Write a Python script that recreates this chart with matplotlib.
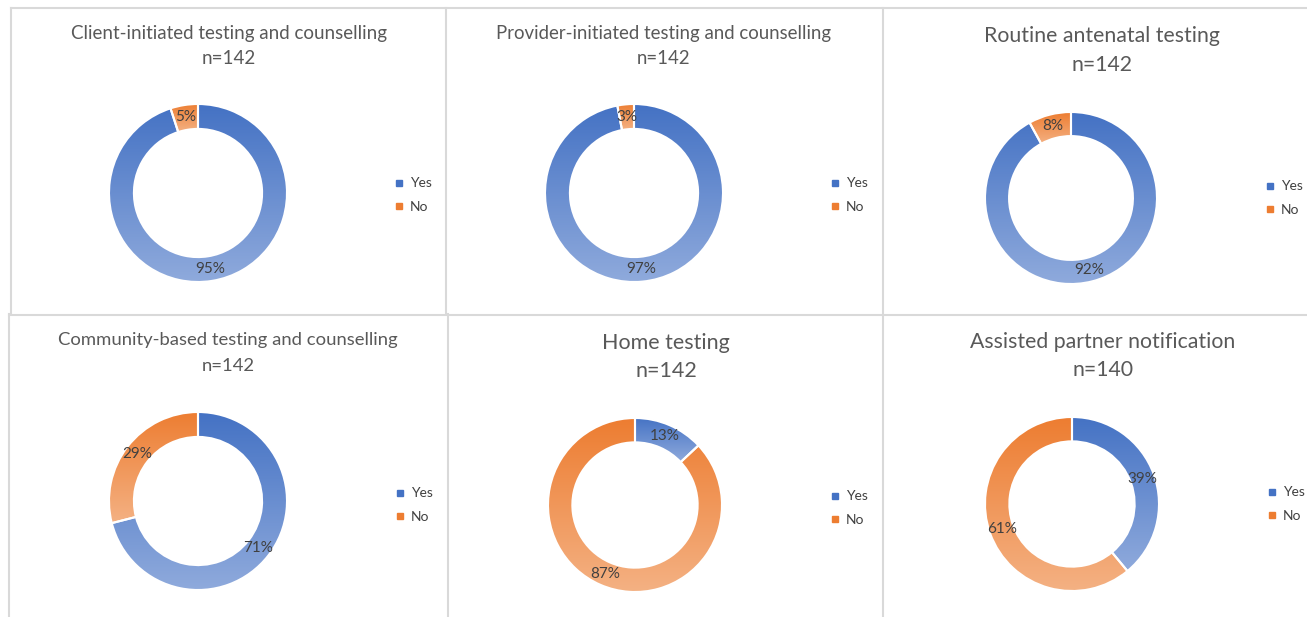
import matplotlib
matplotlib.use('Agg')
import matplotlib.pyplot as plt
import numpy as np
from matplotlib.colors import LinearSegmentedColormap
from matplotlib.lines import Line2D

W, H = 1307, 617

titles = ['Client-initiated testing and counselling',
          'Provider-initiated testing and counselling',
          'Routine antenatal testing',
          'Community-based testing and counselling',
          'Home testing',
          'Assisted partner notification']
sample_sizes = [142, 142, 142, 142, 142, 140]
categories = ['Yes', 'No']
yes_pct = [95, 97, 92, 71, 13, 39]
no_pct = [5, 3, 8, 29, 87, 61]

plt.rcParams['font.family'] = ['Lato', 'DejaVu Sans']

cmaps = [LinearSegmentedColormap.from_list('blue', ['#4472C4', '#8FAADC']),
         LinearSegmentedColormap.from_list('orange', ['#ED7D31', '#F4B183'])]
legend_colors = ['#4472C4', '#ED7D31']

# pixel layout: donut cx, cy, r, title x, title y, n y, title size, legend x, legend y
layout = [
    (198, 193, 89, 229, 34, 59, 13.5, 393, 195),
    (634, 193, 89, 664, 34, 59, 13.4, 829, 195),
    (1071, 198, 86, 1102, 36, 65, 15.3, 1264, 198),
    (198, 501, 89, 228, 340, 366, 13.3, 394, 505),
    (635, 505, 87, 666, 343, 371, 15.5, 829, 508),
    (1072, 504, 87, 1103, 342, 370, 15.3, 1266, 504),
]

fig = plt.figure(figsize=(W / 100, H / 100), dpi=100)

grad = np.linspace(0, 1, 256).reshape(-1, 1)

for i in range(6):
    cx, cy, r, tx, ty, ny, tsize, lx, ly = layout[i]
    pad = 1.1
    ax = fig.add_axes([(cx - pad * r) / W, 1 - (cy + pad * r) / H,
                       2 * pad * r / W, 2 * pad * r / H])
    wedges, texts, autotexts = ax.pie(
        [yes_pct[i], no_pct[i]], startangle=90, counterclock=False,
        autopct='%.0f%%', pctdistance=0.86,
        wedgeprops=dict(width=0.28, edgecolor='white', linewidth=1.5),
        textprops=dict(color='#404040', fontsize=11))
    for w, cm in zip(wedges, cmaps):
        ext = w.get_path().get_extents()
        im = ax.imshow(grad, cmap=cm, aspect='auto', origin='upper',
                       extent=[ext.x0, ext.x1, ext.y0, ext.y1], zorder=0)
        im.set_clip_path(w)
        w.set_facecolor('none')
    for t in autotexts:
        t.set_zorder(5)
    ax.set_xlim(-pad, pad)
    ax.set_ylim(-pad, pad)
    ax.set_aspect('equal')
    ax.axis('off')

    fig.text(tx / W, 1 - ty / H, titles[i], ha='center', va='center',
             fontsize=tsize, color='#595959')
    fig.text(tx / W, 1 - ny / H, 'n=%d' % sample_sizes[i], ha='center',
             va='center', fontsize=tsize, color='#595959')

    handles = [Line2D([], [], marker='s', linestyle='none', markersize=5,
                      markerfacecolor=c, markeredgecolor=c) for c in legend_colors]
    fig.legend(handles, categories, loc='center left',
               bbox_to_anchor=(lx / W, 1 - ly / H), frameon=False,
               fontsize=10, handlelength=0.8, handletextpad=0.4,
               labelspacing=0.8, borderpad=0, borderaxespad=0,
               labelcolor='#404040')

# panel borders
border = '#D9D9D9'
segments = [
    ((11, 1307), (8, 8)),
    ((11, 11), (8, 314)),
    ((446, 446), (8, 314)),
    ((883, 883), (8, 617)),
    ((9, 1307), (314.5, 314.5)),
    ((9, 9), (314, 617)),
    ((448, 448), (314, 617)),
]
for xs, ys in segments:
    fig.add_artist(Line2D([x / W for x in xs], [1 - y / H for y in ys],
                          transform=fig.transFigure, color=border, lw=1.5))

fig.savefig('out.png', dpi=100)
